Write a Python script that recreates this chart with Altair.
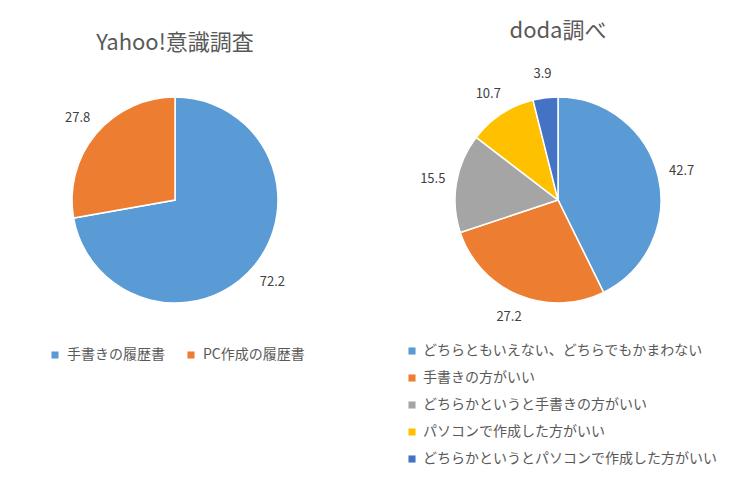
import altair as alt
import pandas as pd

FONT = "Noto Sans CJK JP"

yahoo_title = "Yahoo!意識調査"
yahoo_labels = ["手書きの履歴書", "PC作成の履歴書"]
yahoo_values = [72.2, 27.8]
yahoo_colors = ["#5B9BD5", "#ED7D31"]

doda_title = "doda調べ"
doda_labels = [
    "どちらともいえない、どちらでもかまわない",
    "手書きの方がいい",
    "どちらかというと手書きの方がいい",
    "パソコンで作成した方がいい",
    "どちらかというとパソコンで作成した方がいい",
]
doda_values = [42.7, 27.2, 15.5, 10.7, 3.9]
doda_colors = ["#5B9BD5", "#ED7D31", "#A5A5A5", "#FFC000", "#4472C4"]


def pie(labels, values, colors, title, legend):
    df = pd.DataFrame({"label": labels, "value": values, "order": list(range(len(labels)))})
    base = alt.Chart(df).encode(
        theta=alt.Theta("value:Q", stack=True),
        order=alt.Order("order:Q"),
    )
    arc = base.mark_arc(outerRadius=103, stroke="white", strokeWidth=1.5).encode(
        color=alt.Color("label:N", scale=alt.Scale(domain=labels, range=colors),
                        sort=labels, legend=legend)
    )
    text = base.mark_text(radius=127, fontSize=13, font=FONT, color="#404040").encode(
        text=alt.Text("value:Q", format=".1f")
    )
    return (arc + text).properties(
        width=334, height=240,
        title=alt.TitleParams(title, fontSize=22, font=FONT, fontWeight="normal",
                              color="#595959", anchor="middle", offset=25),
    )


left = pie(yahoo_labels, yahoo_values, yahoo_colors, yahoo_title,
           alt.Legend(title=None, orient="none", legendX=40, legendY=268,
                      direction="horizontal", symbolType="square", symbolSize=50,
                      labelFontSize=14, labelFont=FONT, labelColor="#595959",
                      labelOffset=5, columnPadding=19, symbolStrokeWidth=0))
right = pie(doda_labels, doda_values, doda_colors, doda_title,
            alt.Legend(title=None, orient="none", legendX=14, legendY=264,
                       direction="vertical", symbolType="square", symbolSize=50,
                       labelFontSize=14, labelFont=FONT, labelColor="#595959",
                       labelOffset=4, rowPadding=13, symbolStrokeWidth=0, labelLimit=400))

chart = alt.hconcat(left, right, spacing=49).resolve_scale(
    color="independent", theta="independent"
).configure_view(stroke=None).properties(
    padding={"top": 11, "left": 0, "right": 0, "bottom": 0}
)

chart.save("out.html", embed_options={"renderer": "svg", "actions": False})
